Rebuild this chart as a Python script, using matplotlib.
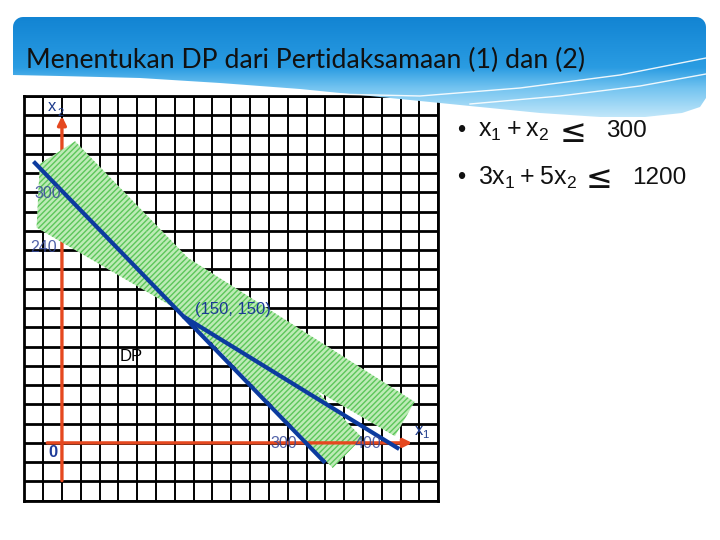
import numpy as np
import matplotlib.pyplot as plt
from matplotlib.path import Path
from matplotlib.patches import Polygon, PathPatch
from matplotlib.colors import LinearSegmentedColormap

# ---- chart data, in (x1, x2) units ----
# constraint lines as drawn on the slide
line1_x1 = [-33, 320]          # x1 + x2 = 300
line1_x2 = [334, -22]
line2_x1 = [150, 410]          # 3x1 + 5x2 = 1200 (drawn from the corner point)
line2_x2 = [150, -6]

# hatched bands
band1_x1 = [16, -27, 331, 367]
band1_x2 = [360, 333, -30, 6]
band2_x1 = [-31, -27, 431, 407]
band2_x2 = [257, 333, 49, 8]

# red coordinate axes (start, arrow tip)
axis_x1_span = [-18, 428]
axis_x2_span = [-45, 390]

# value labels on the axes
value_labels = ['300', '240', '300', '400']
value_x1 = [-17, -22, 271, 374]
value_x2 = [298, 233, -1, -1]

corner_label = '(150, 150)'
corner_pos = (209, 159)
dp_label = 'DP'
dp_pos = (85, 103)

title = 'Menentukan DP dari Pertidaksamaan (1) dan (2)'
rule_lhs = [r'$\mathregular{x_1 + x_2}$', r'$\mathregular{3x_1 + 5x_2}$']
rule_rhs = ['300', '1200']

RED = '#e5481f'
BLUE = '#0c3b9f'
LBL = '#34489a'

plt.rcParams['font.family'] = ['Liberation Sans', 'DejaVu Sans']
plt.rcParams['hatch.color'] = '#5cc65a'
plt.rcParams['hatch.linewidth'] = 1.0

fig = plt.figure(figsize=(7.2, 5.4), dpi=100)

# grid paper
ax = fig.add_axes([24.3 / 720, 39.3 / 540, 414 / 720, 404.7 / 540])
step = 23
ax.set_xlim(-2 * step, 20 * step)
ax.set_ylim(-3 * step, 18 * step)
ax.set_xticks(np.arange(-2, 21) * step)
ax.set_yticks(np.arange(-3, 19) * step)
ax.tick_params(length=0, labelbottom=False, labelleft=False)
ax.grid(axis='x', color='black', lw=1.4)
ax.grid(axis='y', color='black', lw=2.0)
ax.set_axisbelow(True)
for s in ax.spines.values():
    s.set_linewidth(2)
    s.set_color('black')

# vertical axis (under the bands)
ax.annotate('', xy=(0, axis_x2_span[1]), xytext=(0, axis_x2_span[0]),
            arrowprops=dict(arrowstyle='-|>,head_length=0.5,head_width=0.25',
                            color=RED, lw=2.4, shrinkA=0, shrinkB=0),
            zorder=1)

# hatched feasible bands
for bx, by in [(band1_x1, band1_x2), (band2_x1, band2_x2)]:
    ax.add_patch(Polygon(np.column_stack([bx, by]), closed=True,
                         facecolor='#bdebb6', edgecolor='#5cc65a', lw=0,
                         hatch='//////', zorder=2))

# horizontal axis (over the bands)
ax.annotate('', xy=(axis_x1_span[1], 0), xytext=(axis_x1_span[0], 0),
            arrowprops=dict(arrowstyle='-|>,head_length=0.5,head_width=0.25',
                            color=RED, lw=2.4, shrinkA=0, shrinkB=0),
            zorder=3)

# constraint lines
ax.plot(line1_x1, line1_x2, color=BLUE, lw=3, zorder=4)
ax.plot(line2_x1, line2_x2, color=BLUE, lw=3, zorder=4)

# labels
for t, lx, ly in zip(value_labels, value_x1, value_x2):
    ax.text(lx, ly, t, color=LBL, fontsize=11.5, ha='center', va='center',
            alpha=0.85, zorder=5)
ax.text(-10.5, -11, '0', color='#1f3c99', fontsize=12, ha='center',
        va='center', fontweight='bold', zorder=5)
ax.text(corner_pos[0], corner_pos[1], corner_label, color='#1b3a95',
        fontsize=12, ha='center', va='center', zorder=5)
ax.text(dp_pos[0], dp_pos[1], dp_label, color='black', fontsize=12,
        ha='center', va='center', zorder=5)
ax.text(-12, 402, 'x', color='#1f3c8c', fontsize=12, ha='center',
        va='center', zorder=5)
ax.text(-2, 394, '2', color='#1f3c8c', fontsize=8, ha='center',
        va='center', zorder=0.8)
ax.text(436, 15, 'x', color='#1f3c8c', fontsize=12, ha='center',
        va='center', zorder=5)
ax.text(444, 9, '1', color='#1f3c8c', fontsize=8, ha='center',
        va='center', zorder=5)

# ---- slide decoration, in pixels ----
top = fig.add_axes([0, 0, 1, 1])
top.patch.set_alpha(0)
top.axis('off')

r = 10
a = np.linspace(np.pi, 1.5 * np.pi, 8)
left_arc = np.column_stack([13 + r + r * np.cos(a), 17 + r + r * np.sin(a)])
a = np.linspace(1.5 * np.pi, 2 * np.pi, 8)
right_arc = np.column_stack([706 - r + r * np.cos(a), 17 + r + r * np.sin(a)])
bottom = np.array([[706, 98], [700, 107], [682, 113], [645, 117], [600, 117],
                   [540, 113], [480, 107], [420, 101], [360, 95], [300, 89],
                   [220, 83], [140, 78], [60, 76], [13, 75]])
verts = np.vstack([left_arc, right_arc, bottom, left_arc[:1]])
banner = PathPatch(Path(verts), facecolor='none', edgecolor='none')
top.add_patch(banner)
cmap = LinearSegmentedColormap.from_list(
    'band', [(0, '#1284d3'), (0.5, '#2a9ce2'), (0.7, '#72c3f0'), (1, '#c4e8fa')])
grad = np.linspace(0, 1, 256).reshape(-1, 1)
im = top.imshow(grad, extent=(13, 706, 118, 17), cmap=cmap, aspect='auto',
                interpolation='bilinear', zorder=1)
im.set_clip_path(banner)

sw1 = np.array([[330, 94], [420, 96], [520, 88], [620, 75], [706, 58]])
sw2 = np.array([[470, 104], [560, 96], [640, 86], [706, 74]])
for sw in (sw1, sw2):
    top.plot(sw[:, 0], sw[:, 1], color='white', lw=1, alpha=0.9, zorder=2)

top.text(26, 68, title, fontsize=19.2, family='Lato', color='#111111',
         va='baseline', ha='left', zorder=3)

# bullet rules: lhs, sign, value placed as on the slide
rule_y = [131, 178]
sign_x = [560, 586]
value_x = [606, 632]
for i in range(2):
    top.text(461, rule_y[i], '•', fontsize=17, ha='center', va='center',
             color='#111111')
    top.text(478, rule_y[i], rule_lhs[i], fontsize=18, va='center',
             color='#111111')
    top.text(sign_x[i], rule_y[i] + 2, '≤', fontsize=23, va='center',
             family='DejaVu Sans', color='#111111')
    top.text(value_x[i], rule_y[i], rule_rhs[i], fontsize=17.5, va='center',
             color='#111111')

top.set_xlim(0, 720)
top.set_ylim(540, 0)

fig.savefig('out.png', dpi=100)
